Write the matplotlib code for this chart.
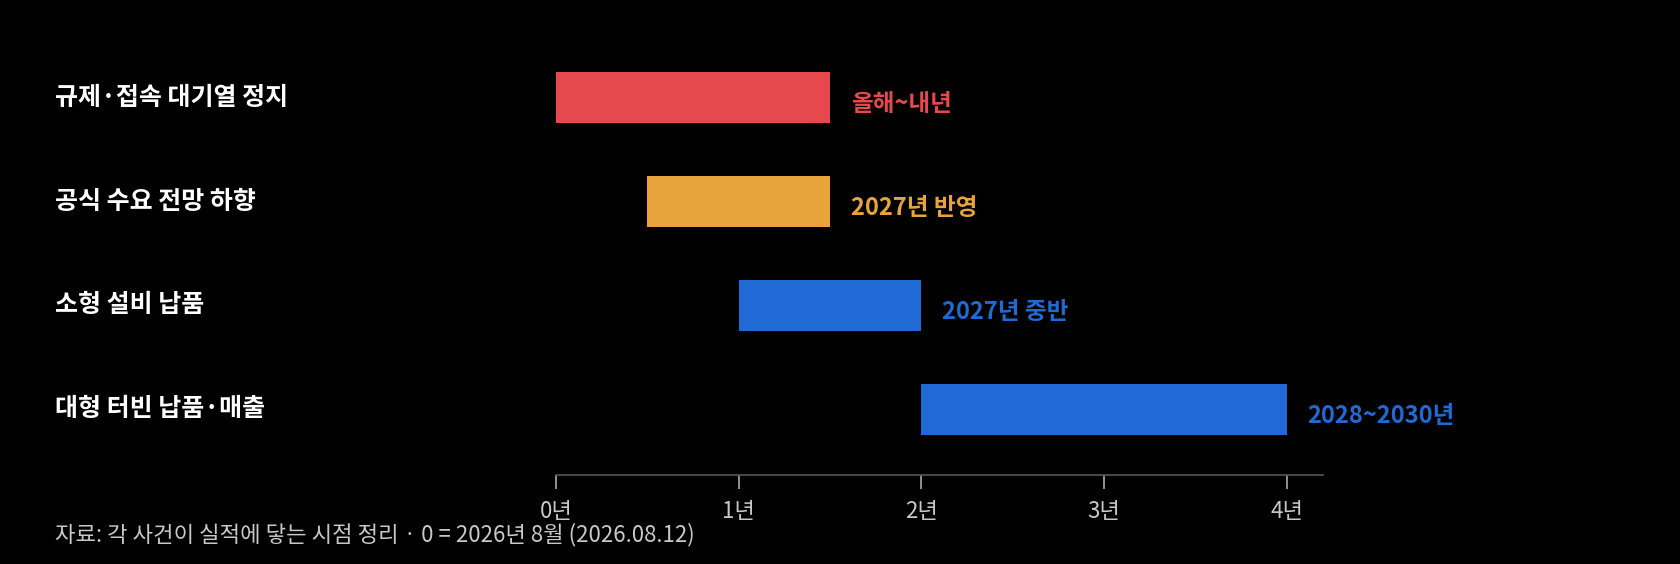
import matplotlib
matplotlib.use("Agg")
import matplotlib.pyplot as plt

plt.rcParams['font.family'] = ['Noto Sans CJK KR', 'DejaVu Sans']

categories = ["규제·접속 대기열 정지", "공식 수요 전망 하향", "소형 설비 납품", "대형 터빈 납품·매출"]
starts = [0, 0.5, 1, 2]
ends = [1.5, 1.5, 2, 4]
value_labels = ["올해~내년", "2027년 반영", "2027년 중반", "2028~2030년"]
colors = ["#E5484D", "#E8A33D", "#1F6AD4", "#1F6AD4"]
ticks = [0, 1, 2, 3, 4]
tick_labels = ["0년", "1년", "2년", "3년", "4년"]
footnote = "자료: 각 사건이 실적에 닿는 시점 정리 · 0 = 2026년 8월 (2026.08.12)"

fig = plt.figure(figsize=(16.8, 5.64), dpi=100, facecolor="black")
ax = fig.add_axes([0.331, 0.158, 0.4566, 0.761], facecolor="black")

ys = list(range(len(categories)))
widths = [e - s for s, e in zip(starts, ends)]
ax.barh(ys, widths, left=starts, height=0.495, color=colors, clip_on=False)
for y, e, lab, c in zip(ys, ends, value_labels, colors):
    ax.text(e + 0.115, y + 0.06, lab, color=c, fontsize=17, fontweight="bold",
            va="center", ha="left")

ax.set_xlim(0, 4.2)
ax.set_ylim(3.63, -0.5)
ax.set_yticks(ys)
ax.set_yticklabels([])
ax.tick_params(axis="y", length=0)
for y, cat in zip(ys, categories):
    fx, fy = fig.transFigure.inverted().transform(ax.transData.transform((0, y)))
    fig.text(0.033, fy, cat, color="white", fontsize=18, fontweight="bold",
             va="center", ha="left")
ax.set_xticks(ticks)
ax.set_xticklabels(tick_labels, fontsize=16)
ax.tick_params(axis="x", colors="#aaaaaa", length=10, width=1.2, pad=8, labelcolor="#c8c8c8")
for s in ["top", "right", "left"]:
    ax.spines[s].set_visible(False)
ax.spines["bottom"].set_color("#555555")
ax.spines["bottom"].set_linewidth(1.2)

fig.text(0.033, 0.052, footnote, color="#c8c8c8", fontsize=16, va="center", ha="left")

fig.savefig("out.png", dpi=100, facecolor="black")
